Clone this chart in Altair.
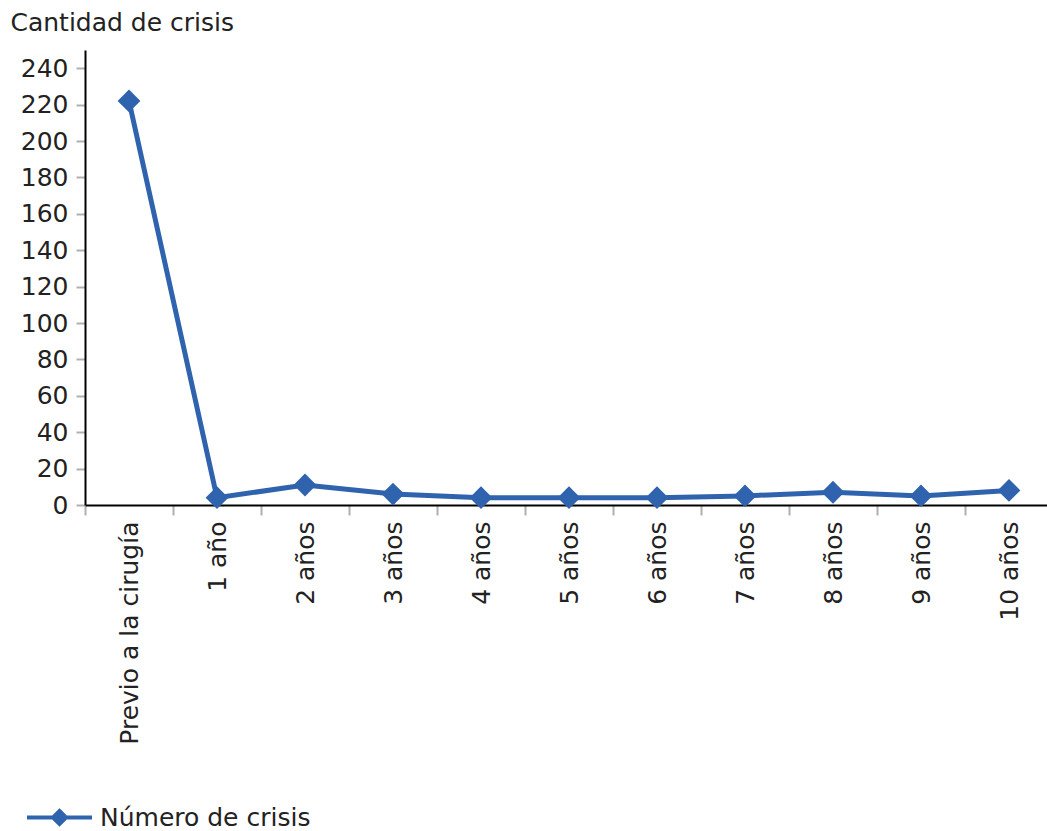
import altair as alt
import pandas as pd

categorias = ["Previo a la cirugía", "1 año", "2 años", "3 años", "4 años", "5 años",
              "6 años", "7 años", "8 años", "9 años", "10 años"]
crisis = [222, 4, 11, 6, 4, 4, 4, 5, 7, 5, 8]
serie = "Número de crisis"
ticks_y = list(range(0, 241, 20))

df = pd.DataFrame({"periodo": categorias, "crisis": crisis, "serie": [serie] * len(categorias)})

azul = "#2f63ae"
fuente = "DejaVu Sans"
texto = "#222222"
fs = 25

x_enc = alt.X(
    "periodo:N",
    sort=categorias,
    bandPosition=0.5,
    scale=alt.Scale(type="band", range=[0, 968], paddingInner=0, paddingOuter=0),
    axis=alt.Axis(
        title=None, labelAngle=-90, tickBand="extent", labelFont=fuente, labelFontSize=fs,
        labelColor=texto, domainColor="#000000", domainWidth=2, tickColor="#b0b0b0",
        tickWidth=2, tickSize=10, labelPadding=6, grid=False, labelBaseline="middle",
        labelLimit=400,
    ),
)
y_enc = alt.Y(
    "crisis:Q",
    scale=alt.Scale(domain=[0, 250], nice=False),
    axis=alt.Axis(
        title="Cantidad de crisis", values=ticks_y, titleAngle=0, titleX=-75, titleY=-28,
        titleAlign="left", titleBaseline="middle", titleFont=fuente, titleFontSize=fs,
        titleFontWeight="normal", titleColor=texto, labelFont=fuente, labelFontSize=fs,
        labelColor=texto, domainColor="#000000", domainWidth=2, tickColor="#b0b0b0",
        tickWidth=2, tickSize=9, labelPadding=8, grid=False,
    ),
)

simbolo = "M-1,0H1M0,-0.2L0.2,0L0,0.2L-0.2,0Z"

linea = alt.Chart(df).mark_line(strokeWidth=5).encode(
    x=x_enc,
    y=y_enc,
    color=alt.Color(
        "serie:N",
        scale=alt.Scale(domain=[serie], range=[azul]),
        legend=alt.Legend(
            title=None, orient="none", legendX=-60, legendY=733, symbolType=simbolo,
            symbolSize=4225, symbolStrokeWidth=4, symbolStrokeColor=azul,
            symbolFillColor=azul, labelFont=fuente, labelFontSize=fs, labelColor=texto,
            labelOffset=6, padding=0, labelLimit=400,
        ),
    ),
)

puntos = alt.Chart(df).mark_point(shape="diamond", filled=True, size=520, opacity=1, color=azul).encode(
    x=x_enc,
    y=y_enc,
)

chart = (
    alt.layer(linea, puntos)
    .properties(
        width=962, height=455, autosize="none",
        padding={"left": 85, "top": 50, "right": 0, "bottom": 326},
        background="#ffffff",
    )
    .configure_view(stroke=None)
)

chart.save("out.html", embed_options={"renderer": "svg", "actions": False})
